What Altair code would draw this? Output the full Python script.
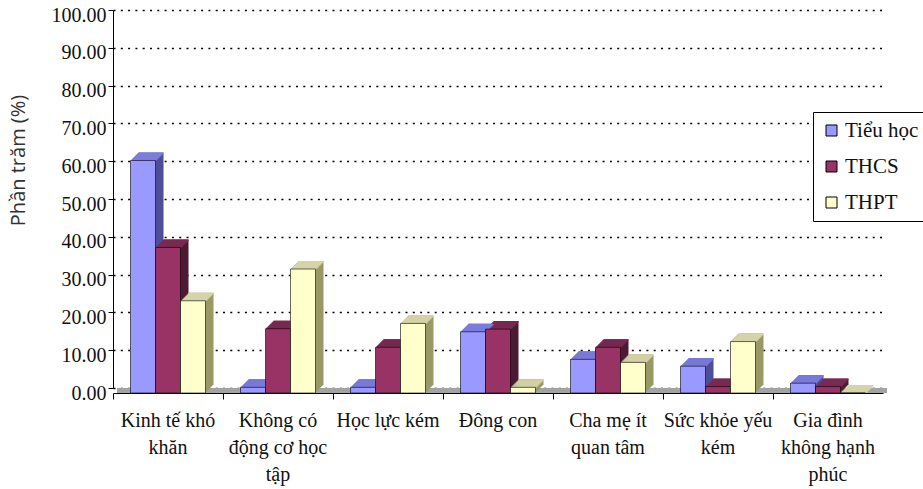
import altair as alt
import pandas as pd

# ---- data ----
categories = [
    "Kinh tế khó khăn",
    "Không có động cơ học tập",
    "Học lực kém",
    "Đông con",
    "Cha mẹ ít quan tâm",
    "Sức khỏe yếu kém",
    "Gia đình không hạnh phúc",
]
label_lines = [
    ["Kinh tế khó", "khăn"],
    ["Không có", "động cơ học", "tập"],
    ["Học lực kém"],
    ["Đông con"],
    ["Cha mẹ ít", "quan tâm"],
    ["Sức khỏe yếu", "kém"],
    ["Gia đình", "không hạnh", "phúc"],
]
series = ["Tiểu học", "THCS", "THPT"]
tieu_hoc = [61.5, 1.5, 1.5, 16.2, 8.9, 7.1, 2.6]
thcs = [38.5, 17.0, 12.1, 16.9, 12.1, 1.7, 1.7]
thpt = [24.4, 32.8, 18.4, 1.5, 8.1, 13.6, 0.0]
y_ticks = [0, 10, 20, 30, 40, 50, 60, 70, 80, 90, 100]

front_colors = ["#9999ff", "#993366", "#ffffcc"]
top_colors = ["#7c7cdd", "#7a2952", "#d4d4a8"]
side_colors = ["#4d4d99", "#4d1a33", "#999966"]

# ---- tables built from the arrays ----
values = [tieu_hoc, thcs, thpt]
rows = []
for ci, cat in enumerate(categories):
    for si, s in enumerate(series):
        rows.append({
            "category": cat,
            "series": s,
            "value": values[si][ci],
            "top": top_colors[si],
            "side": side_colors[si],
        })
df = pd.DataFrame(rows)
floor_df = pd.DataFrame({"category": categories, "floor": [0] * len(categories)})

# ---- layout constants ----
W, H = 785, 378
STEP = 110
DEPTH = 8
LIFT = 5
SERIF = "Liberation Serif"
SANS = "Open Sans"

x_scale = alt.Scale(domain=categories, range=[0, STEP * len(categories)],
                    paddingInner=0, paddingOuter=0)
y_scale = alt.Scale(domain=[0, 100], nice=False, zero=True)

y_axis = alt.Axis(
    title="Phần trăm (%)", values=y_ticks, format=".2f", orient="left",
    grid=True, gridColor="#000000", gridDash=[2, 5.3], gridWidth=1.6,
    domain=True, domainColor="#000000", domainWidth=1,
    ticks=True, tickColor="#000000", tickSize=5,
    labelFont=SERIF, labelFontSize=20, labelColor="#111111",
    labelPadding=2, labelOffset=5,
    titleFont=SANS, titleFontSize=20, titleFontWeight="normal",
    titleColor="#333333", titleAngle=270, titleX=-95, titleY=150,
    titleAlign="center", titleBaseline="middle",
)

label_map = ", ".join(
    "'" + c + "': [" + ", ".join("'" + l + "'" for l in ls) + "]"
    for c, ls in zip(categories, label_lines)
)
label_axis = alt.Axis(
    title=None, orient="bottom", domain=False, ticks=False, tickSize=0,
    grid=False,
    labelExpr="({" + label_map + "})[datum.value]",
    labelFont=SERIF, labelFontSize=20, labelColor="#111111",
    labelPadding=17, labelLineHeight=27, labelAngle=0, labelLimit=0,
    labelBaseline="top", offset=LIFT,
)
tick_axis = alt.Axis(
    title=None, orient="bottom", labels=False, domain=True,
    domainColor="#000000", domainWidth=1, ticks=True, tickColor="#000000",
    tickSize=6, bandPosition=0, grid=False, offset=LIFT,
)


def x_off(k):
    return alt.XOffset(
        "series:N", sort=series,
        scale=alt.Scale(domain=series, range=[17.5 + k, 92.5 + k],
                        paddingInner=0, paddingOuter=0),
    )


base = alt.Chart(df)
layers = []

# floor strip
layers.append(
    alt.Chart(floor_df).mark_rect(
        color="#a3a3a3", xOffset=4, x2Offset=4, yOffset=0, y2Offset=LIFT
    ).encode(
        x=alt.X("category:N", scale=x_scale, axis=tick_axis),
        y=alt.Y("floor:Q", scale=y_scale, axis=y_axis),
        y2=alt.Y2("floor:Q"),
    )
)

# side faces (depth staircase)
for k in range(1, DEPTH + 1):
    layers.append(
        base.mark_bar(yOffset=LIFT - k, y2Offset=LIFT - k).encode(
            x=alt.X("category:N", scale=x_scale, axis=None),
            xOffset=x_off(k),
            y=alt.Y("value:Q", scale=y_scale, axis=y_axis),
            y2=alt.datum(0),
            color=alt.Color("side:N", scale=None),
        )
    )

# top faces
for k in range(1, DEPTH + 1):
    layers.append(
        base.mark_bar(yOffset=LIFT - k, y2Offset=LIFT - k + 1.5).encode(
            x=alt.X("category:N", scale=x_scale, axis=None),
            xOffset=x_off(k),
            y=alt.Y("value:Q", scale=y_scale, axis=y_axis),
            y2=alt.Y2("value:Q"),
            color=alt.Color("top:N", scale=None),
        )
    )

# front faces with legend
layers.append(
    base.mark_bar(yOffset=LIFT, y2Offset=LIFT, stroke="#000000",
                  strokeWidth=0.6).encode(
        x=alt.X("category:N", scale=x_scale, axis=label_axis),
        xOffset=x_off(0),
        y=alt.Y("value:Q", scale=y_scale, axis=y_axis),
        y2=alt.datum(0),
        color=alt.Color(
            "series:N",
            scale=alt.Scale(domain=series, range=front_colors),
            legend=alt.Legend(
                title=None, orient="none", legendX=700, legendY=102,
                fillColor="#ffffff", strokeColor="#000000", padding=8,
                symbolType="square", symbolSize=121,
                symbolStrokeColor="#000000", symbolStrokeWidth=1,
                labelFont=SERIF, labelFontSize=21, labelColor="#111111",
                rowPadding=14, labelOffset=3,
            ),
        ),
    )
)

chart = (
    alt.layer(*layers)
    .resolve_scale(xOffset="independent", color="independent")
    .resolve_axis(x="independent")
    .properties(
        width=W, height=H,
        padding={"left": 113, "top": 10, "right": 25, "bottom": 101},
        autosize=alt.AutoSizeParams(type="none"),
        background="#ffffff",
    )
    .configure_view(stroke=None)
)

chart.save("out.html", embed_options={"renderer": "svg", "actions": False})
